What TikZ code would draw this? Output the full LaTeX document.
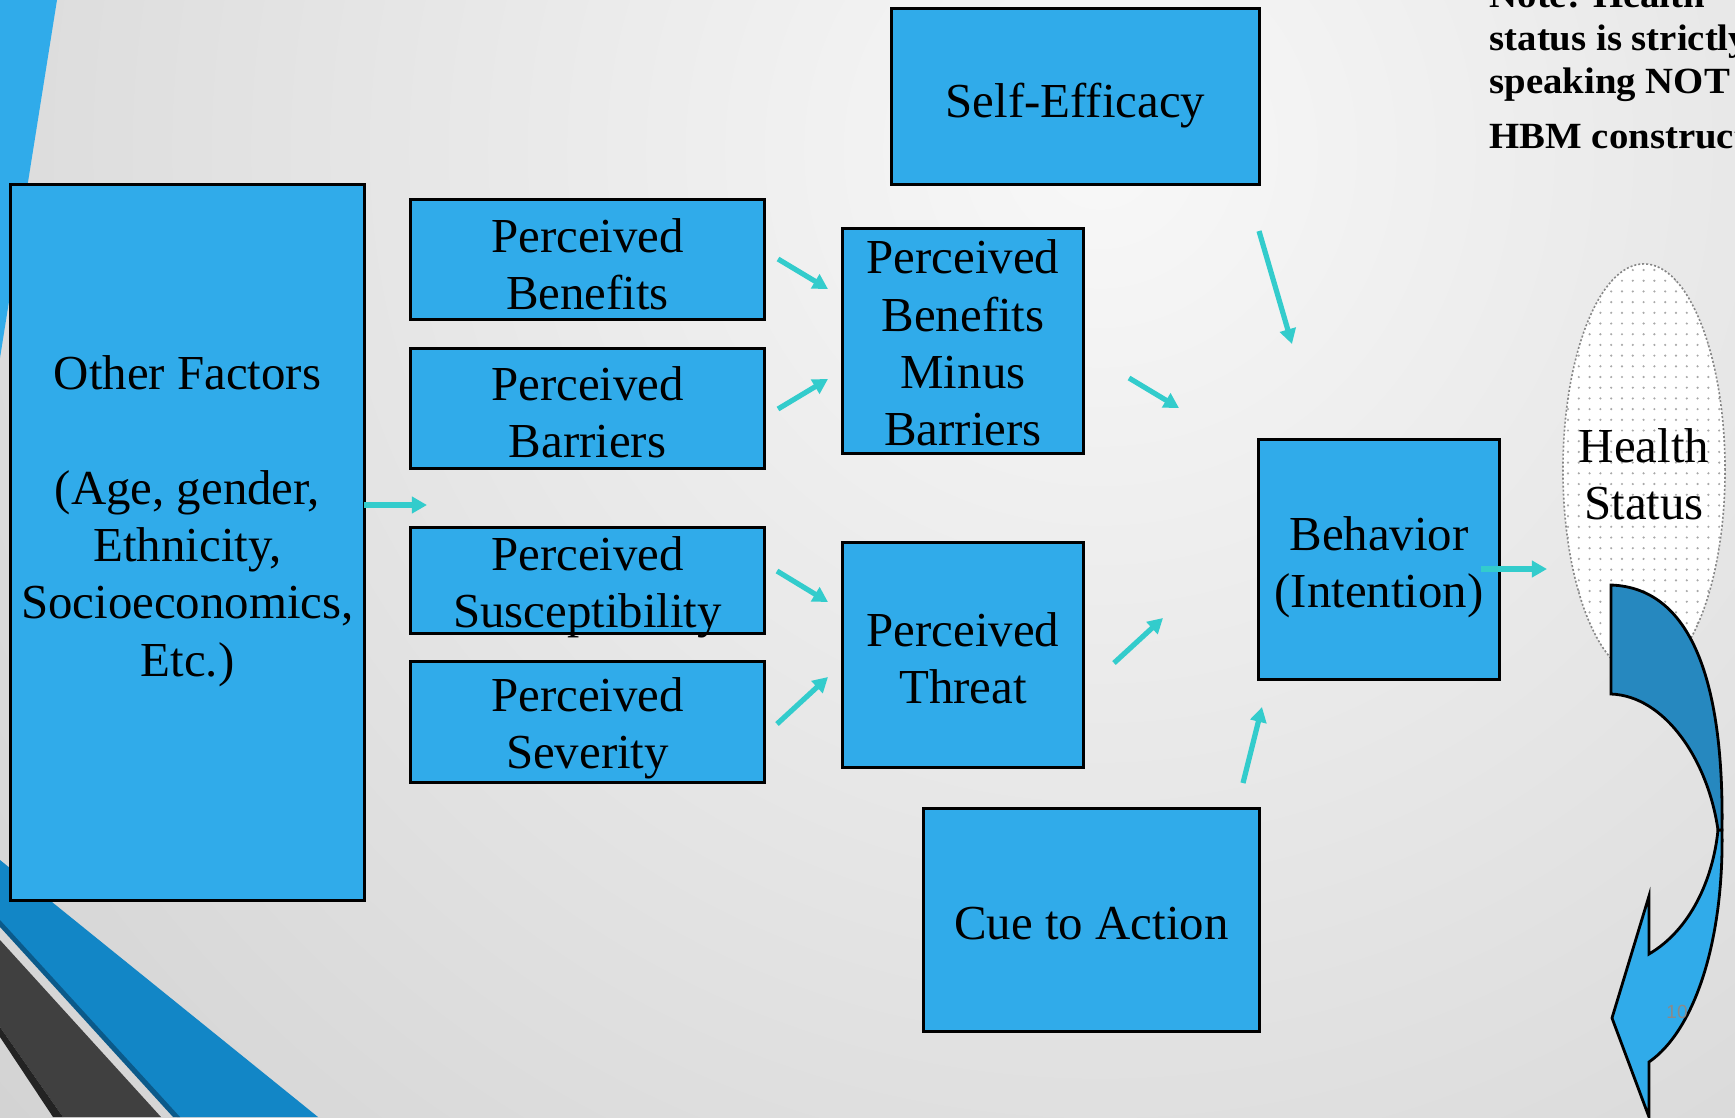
\documentclass[tikz,border=0pt]{standalone}
\usepackage{fontspec}
\setmainfont{Liberation Serif}
\newfontfamily\notefont[FakeStretch=1.05]{Liberation Serif}
\newfontfamily\pgnumfont{Liberation Sans}
\usetikzlibrary{arrows.meta,calc}
\definecolor{bgin}{HTML}{F8F8F8}
\definecolor{bgout}{HTML}{D2D2D2}
\definecolor{boxblue}{HTML}{30ABEA}
\definecolor{midblue}{HTML}{1286C6}
\definecolor{deepblue}{HTML}{0B5A8A}
\definecolor{bandgray}{HTML}{404040}
\definecolor{bandblack}{HTML}{232323}
\definecolor{arrowcyan}{HTML}{33CCCC}
\definecolor{curvedark}{HTML}{2688BF}
\definecolor{dotgray}{HTML}{A8A8A8}
\definecolor{pggray}{HTML}{8A8A8A}
\begin{document}
\begin{tikzpicture}[x=0.01cm,y=-0.01cm,
  box/.style={draw=black, line width=0.03cm, fill=boxblue, inner sep=0pt, outer sep=0pt},
  lbl/.style={align=center, font=\fontsize{13.9pt}{16.3pt}\selectfont, inner sep=0pt},
  note/.style={anchor=base west, inner sep=0pt, font=\notefont\fontsize{10.5pt}{12.2pt}\selectfont\bfseries},
  flow/.style={draw=arrowcyan, line width=0.052cm, -{Triangle[length=0.15cm,width=0.16cm]}},
]
\useasboundingbox (0,0) rectangle (1735,1117);
\begin{scope}
\clip (0,0) rectangle (1735,1117);
% background
\shade[inner color=bgin, outer color=bgout] (1100,150) circle (15cm);
% top-left band
\fill[boxblue] (0,0) -- (57,0) -- (0,358) -- cycle;
% bottom-left bands
\fill[midblue] (0,860) -- (318,1117) -- (177,1117) -- (0,923) -- cycle;
\fill[deepblue] (0,920) -- (180,1117) -- (173,1117) -- (0,927) -- cycle;
\fill[bandgray] (0,940) -- (161,1117) -- (63,1117) -- (0,1027) -- cycle;
\fill[bandblack] (0,1027) -- (63,1117) -- (53,1117) -- (0,1037) -- cycle;

% boxes
\node[box, minimum width=3.53cm, minimum height=7.15cm] (OF) at (187.5,542.5) {};
\node[box, minimum width=3.53cm, minimum height=1.19cm] (PB) at (587.5,259.5) {};
\node[box, minimum width=3.53cm, minimum height=1.19cm] (PBar) at (587.5,408.5) {};
\node[box, minimum width=3.53cm, minimum height=1.05cm] (PSus) at (587.5,580.5) {};
\node[box, minimum width=3.53cm, minimum height=1.20cm] (PSev) at (587.5,722) {};
\node[box, minimum width=2.40cm, minimum height=2.24cm] (PBMB) at (963,341) {};
\node[box, minimum width=2.40cm, minimum height=2.24cm] (PT) at (963,655) {};
\node[box, minimum width=3.67cm, minimum height=1.75cm] (SE) at (1075.5,96.5) {};
\node[box, minimum width=3.35cm, minimum height=2.22cm] (Cue) at (1091.5,920) {};
\node[box, minimum width=2.40cm, minimum height=2.39cm] (Beh) at (1379,559.5) {};

% labels
\node[lbl] (OFt) at (187.5,521) {Other Factors\\[16.3pt](Age, gender,\\Ethnicity,\\Socioeconomics,\\Etc.)};
\node[lbl] (PBt) at (587.5,264) {Perceived\\Benefits};
\node[lbl] (PBart) at (587.5,412) {Perceived\\Barriers};
\node[lbl] (PSust) at (587.5,587) {Perceived\\Susceptibility};
\node[lbl] (PSevt) at (587.5,728) {Perceived\\Severity};
\node[lbl] (PBMBt) at (963,343) {Perceived\\Benefits\\Minus\\Barriers};
\node[lbl] (PTt) at (963,658) {Perceived\\Threat};
\node[lbl] (SEt) at (1075.5,105.5) {Self-Efficacy};
\node[lbl] (Cuet) at (1091.5,924) {Cue to Action};
\node[lbl] (Beht) at (1379,567) {Behavior\\(Intention)};

% note
\node[note] (n1) at (1489,7) {Note: Health};
\node[note] (n2) at (1489,50) {status is strictly};
\node[note] (n3) at (1489,93) {speaking NOT};
\node[note] (n4) at (1489,148) {HBM construct};

% health status ellipse
\begin{scope}
\clip (1644,470) ellipse [x radius=0.81cm, y radius=2.06cm];
\fill[white] (1555,255) rectangle (1735,690);
\foreach \i in {0,...,16} {
  \foreach \j in {0,...,39} {
    \fill[dotgray] (1568+\i*10.8, 270+\j*10.7) circle (0.012cm);
  }
}
\end{scope}
\draw[draw=dotgray!80!black, line width=0.016cm, dash pattern=on 0.02cm off 0.02cm] (1644,470) ellipse [x radius=0.81cm, y radius=2.06cm];
\node[lbl] (HSt) at (1644,474) {Health\\Status};

% connectors
\coordinate (a1s) at (364,505);  \coordinate (a1e) at (427,505);
\coordinate (a2s) at (778,259);  \coordinate (a2e) at (828,289);
\coordinate (a3s) at (778,409);  \coordinate (a3e) at (828,379);
\coordinate (a4s) at (777,571);  \coordinate (a4e) at (828,602);
\coordinate (a5s) at (777,724);  \coordinate (a5e) at (828,677);
\coordinate (a6s) at (1129,378); \coordinate (a6e) at (1179,408);
\coordinate (a7s) at (1114,663); \coordinate (a7e) at (1163,618);
\coordinate (a8s) at (1259,231); \coordinate (a8e) at (1292,344);
\coordinate (a9s) at (1243,783); \coordinate (a9e) at (1262,707);
\coordinate (a10s) at (1481,569); \coordinate (a10e) at (1547,569);
\foreach \k in {1,...,10} { \draw[flow] (a\k s) -- (a\k e); }

% curved arrow
\filldraw[fill=boxblue, draw=black, line width=0.028cm, line join=miter]
  (1722,830) .. controls (1724,940) and (1695,1030) .. (1649,1062)
  -- (1649,1117) -- (1612,1018) -- (1649,896) -- (1649,954)
  .. controls (1690,930) and (1713,880) .. (1718,830) -- cycle;
\filldraw[fill=curvedark, draw=black, line width=0.028cm, line join=miter]
  (1611,585) .. controls (1695,588) and (1724,690) .. (1722,830)
  -- (1718,830) .. controls (1708,760) and (1665,696) .. (1611,694) -- cycle;
\node[inner sep=0pt, text=pggray, font=\fontsize{5.4pt}{6pt}\selectfont\pgnumfont] (pg) at (1677,1012) {10};
\end{scope}
\end{tikzpicture}
\end{document}
